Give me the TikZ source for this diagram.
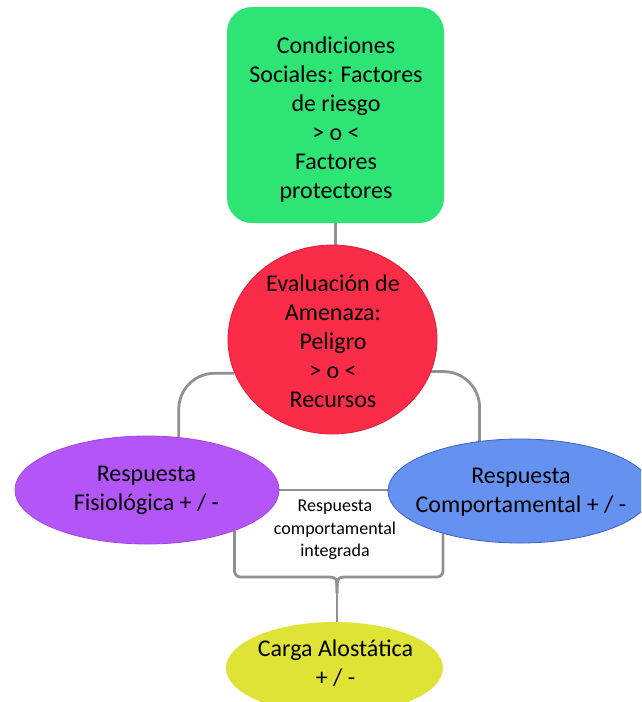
\documentclass[tikz,border=0pt]{standalone}
\usepackage{fontspec}
\setmainfont{Carlito}
\usetikzlibrary{shapes.geometric,calc}
\definecolor{cgreen}{RGB}{45,228,116}
\definecolor{cred}{RGB}{251,44,71}
\definecolor{credb}{RGB}{225,30,55}
\definecolor{cpurple}{RGB}{180,86,247}
\definecolor{cpurpleb}{RGB}{160,70,228}
\definecolor{cblue}{RGB}{101,146,241}
\definecolor{cblueb}{RGB}{60,100,190}
\definecolor{cyellow}{RGB}{223,227,54}
\definecolor{cgray}{RGB}{145,145,145}
\pgfdeclarelayer{back}
\pgfdeclarelayer{lines}
\pgfsetlayers{back,lines,main}
\tikzset{
  conn/.style={draw=cgray, line width=2.8pt},
  oval/.style={ellipse, inner sep=0pt, line width=0.8pt},
  lbl/.style={align=center, font=\fontsize{24}{29}\selectfont, inner sep=0pt, text=black},
  slbl/.style={align=center, font=\fontsize{18}{22.5}\selectfont, inner sep=0pt, text=black},
}
\begin{document}
\begin{tikzpicture}[x=1pt,y=-1pt]
\useasboundingbox (0,0) rectangle (641,702);
\begin{pgfonlayer}{back}
\fill[white] (0,0) rectangle (641,702);
\end{pgfonlayer}
\clip (0,0) rectangle (641,702);
% shapes
\node[rectangle, fill=cgreen, rounded corners=25pt, minimum width=217pt, minimum height=216pt, inner sep=0pt] (cond) at (335.5,115) {};
\node[oval, fill=cred, draw=credb, minimum width=209pt, minimum height=189pt] (eval) at (332.5,339.5) {};
\node[oval, fill=cpurple, draw=cpurpleb, minimum width=264pt, minimum height=108pt] (fisio) at (147,490) {};
\node[oval, fill=cblue, draw=cblueb, minimum width=264pt, minimum height=104pt] (comp) at (520,491) {};
\node[oval, fill=cyellow, minimum width=217pt, minimum height=92pt] (carga) at (334.5,668) {};
% texts
\node[lbl] (tcond) at (336,119.5) {Condiciones\\Sociales: Factores\\de riesgo\\> o <\\Factores\\protectores};
\node[lbl] (teval) at (333,341.5) {Evaluación de\\Amenaza:\\Peligro\\> o <\\Recursos};
\node[lbl] (tfisio) at (146.5,490) {Respuesta\\Fisiológica + / -};
\node[lbl] (tcomp) at (521,492) {Respuesta\\Comportamental + / -};
\node[lbl] (tcarga) at (335.5,663) {Carga Alostática\\+ / -};
\node[slbl] (tint) at (335,530) {Respuesta\\comportamental\\integrada};
\coordinate (bmid) at (337,577);
% connectors
\begin{pgfonlayer}{lines}
\draw[conn] (cond.south) -- (cond.south |- eval.north);
\draw[conn, rounded corners=36pt] (eval.199) -| (fisio.59);
\draw[conn, rounded corners=36pt] (eval.-18) -| (comp.129);
\draw[conn] (fisio.east) -- (fisio.east -| comp.west);
\draw[conn, rounded corners=6pt] (fisio.-25) |- ($(bmid)+(-12,0)$);
\draw[conn, rounded corners=6pt] (comp.209) |- ($(bmid)+(12,0)$);
\draw[conn] ($(bmid)+(-12,0)$) .. controls (bmid) .. ($(bmid)+(0,16)$);
\draw[conn] ($(bmid)+(12,0)$) .. controls (bmid) .. ($(bmid)+(0,16)$);
\draw[conn] ($(bmid)+(0,16)$) -- (carga.north -| bmid);
\end{pgfonlayer}
\end{tikzpicture}
\end{document}
